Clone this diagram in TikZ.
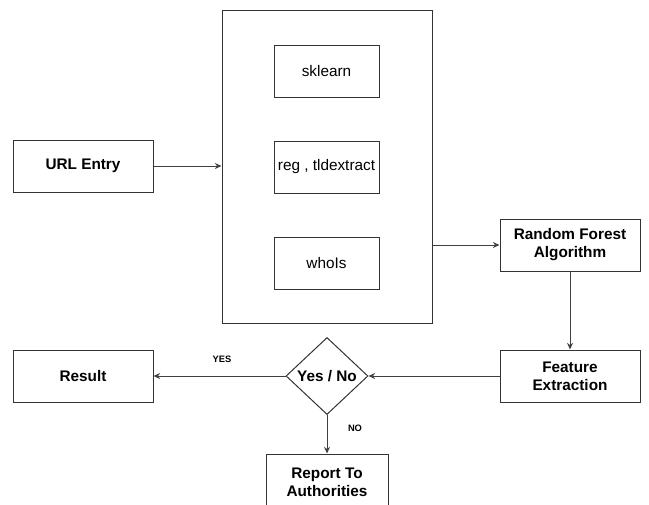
\documentclass[tikz,border=0pt]{standalone}
\usepackage{fontspec}
\setmainfont{Liberation Sans}
\usetikzlibrary{shapes.geometric,arrows.meta}

\begin{document}
\begin{tikzpicture}[x=0.75pt, y=-0.75pt, line width=0.75pt,
    box/.style={draw=black!80, minimum width=105pt, minimum height=39pt, align=center,
        font=\fontsize{11.5}{13.5}\selectfont\bfseries},
    libbox/.style={draw=black!80, minimum width=78.75pt, minimum height=39pt, inner sep=1pt,
        font=\fontsize{11.5}{13.5}\selectfont},
    decision/.style={draw=black!80, diamond, minimum width=61.5pt, minimum height=57.75pt, inner sep=0pt},
    arrow/.style={draw=black!75, -{Stealth[length=5pt,width=4.5pt]}},
    answer/.style={font=\fontsize{7}{8}\selectfont\bfseries}]

        % page size
        \useasboundingbox (0,0) rectangle (649,504);

        % input
        \node[box] (url) at (83,166) {URL Entry};

        % library block
        \node[draw=black!80, minimum width=157.5pt, minimum height=234.75pt] (libs) at (327,166.5) {};
        \node[libbox] (sklearn) at (326.5,71) {sklearn};
        \node[libbox] (tld) at (326.5,167) {reg , tldextract};
        \node[libbox] (whois) at (326.5,263) {whoIs};

        % model and features
        \node[box] (rf) at (570,245) {Random Forest\\Algorithm};
        \node[box] (fe) at (570,376) {Feature\\Extraction};

        % decision
        \node[decision, label={[font=\fontsize{11.5}{13.5}\selectfont\bfseries]center:Yes / No}] (dec) at (327,376) {};
        \node[box] (res) at (83,376) {Result};
        \node[box, minimum width=91.5pt, minimum height=42pt] (report) at (327,482) {Report To\\Authorities};

        % yes / no labels
        \node[answer] (yeslbl) at (222,359) {YES};
        \node[answer] (nolbl) at (355,428) {NO};

        % arrows
        \draw[arrow] (url.east) -- (url.east -| libs.west);
        \draw[arrow] (libs.east |- rf.west) -- (rf.west);
        \draw[arrow] (rf) -- (fe);
        \draw[arrow] (fe) -- (dec);
        \draw[arrow] (dec) -- (res);
        \draw[arrow] (dec) -- (report);

\end{tikzpicture}
\end{document}
